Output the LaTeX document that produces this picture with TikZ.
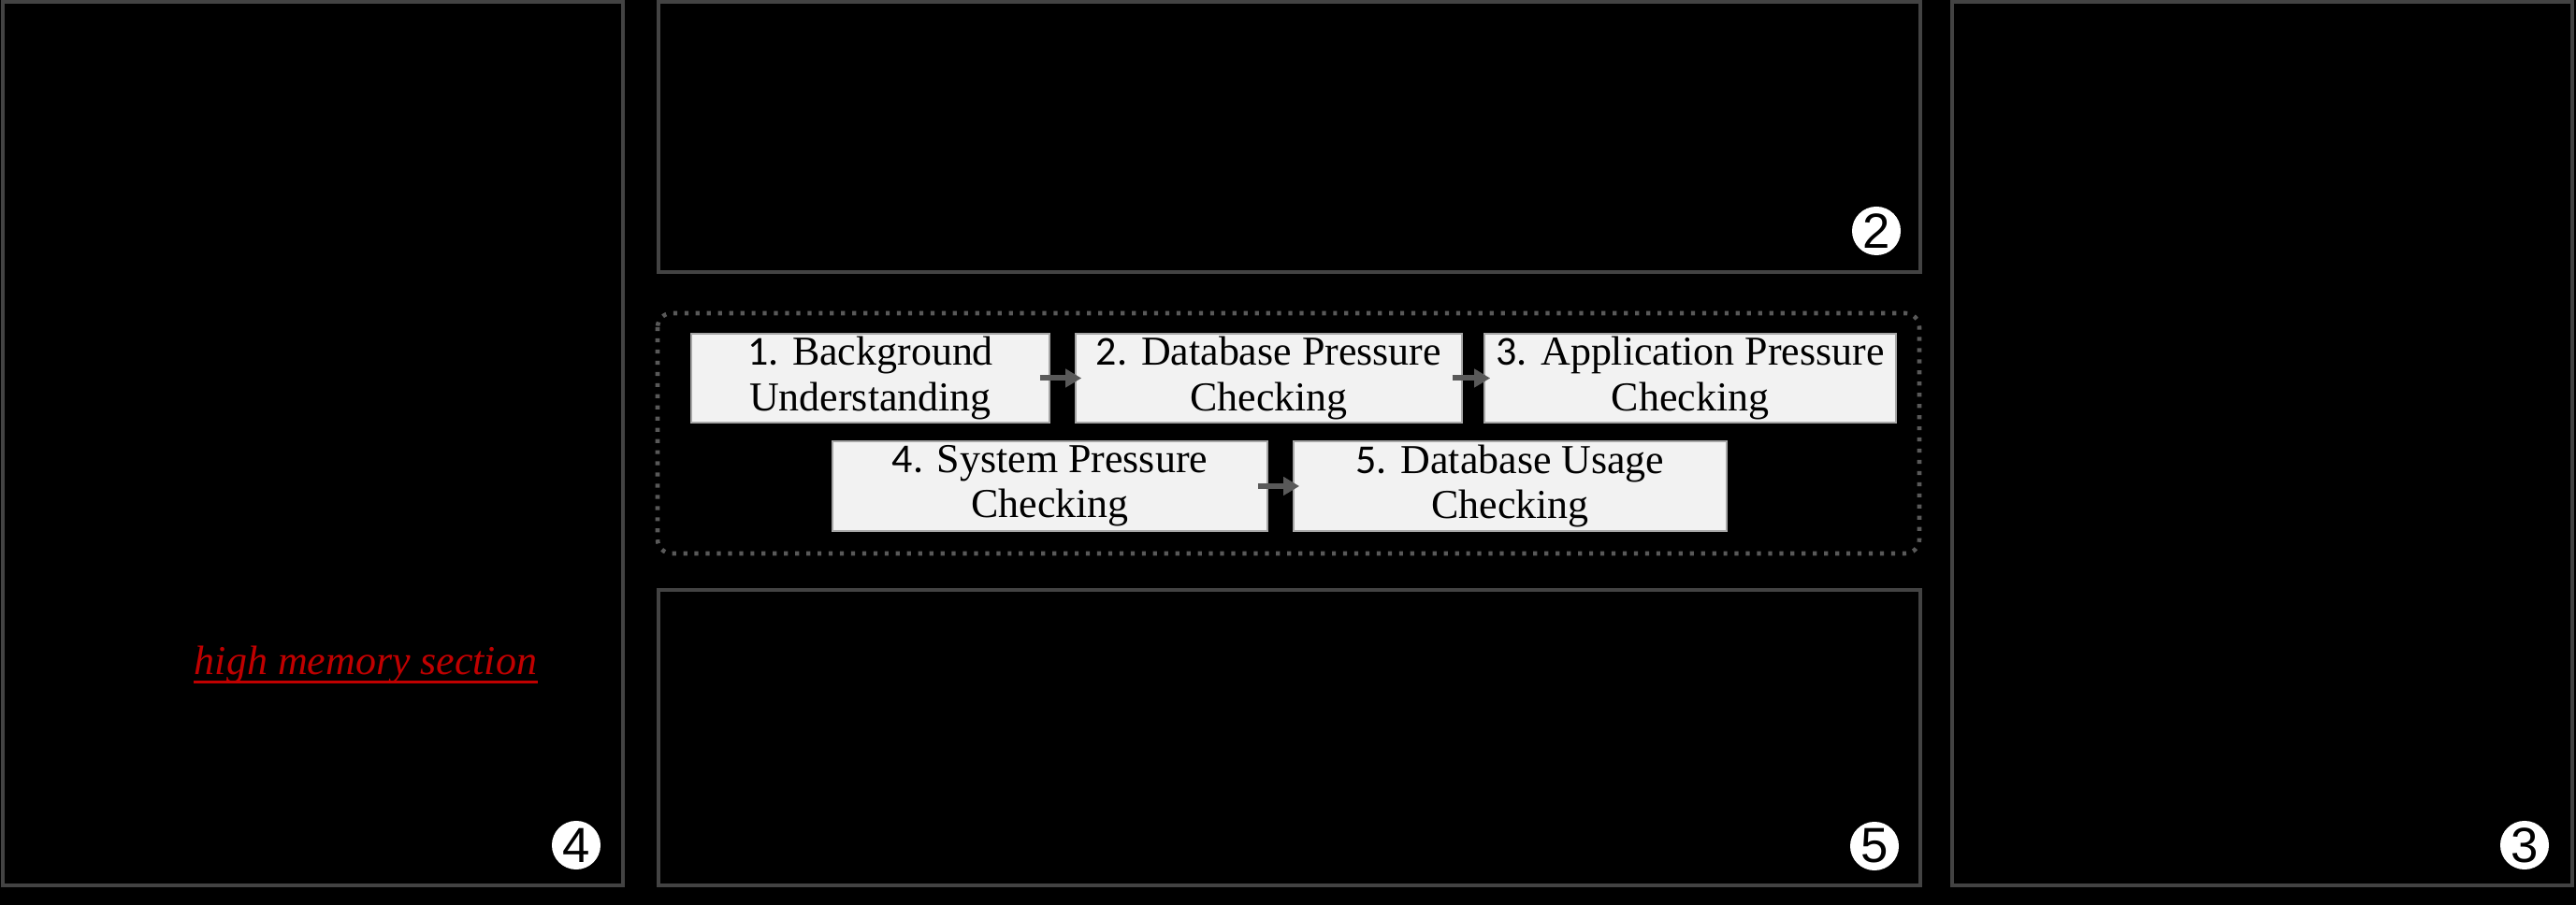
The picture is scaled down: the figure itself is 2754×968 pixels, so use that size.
\documentclass[tikz,border=0pt]{standalone}
\usepackage{fontspec}
\setmainfont{Liberation Serif}
\newfontfamily\numfont{Carlito}
\newfontfamily\circfont{Liberation Sans}
\usetikzlibrary{arrows.meta}

\definecolor{panelgray}{HTML}{434343}
\definecolor{boxfill}{HTML}{F2F2F2}
\definecolor{arrowgray}{HTML}{595959}
\definecolor{memred}{HTML}{C00000}

\begin{document}
\begin{tikzpicture}[x=0.01cm, y=-0.01cm,
    panel/.style={draw=panelgray, line width=1pt},
    stepbox/.style={draw=gray!70, line width=0.4pt, fill=boxfill, inner sep=0pt,
        minimum height=0.95cm, align=center, font=\fontsize{12.5}{13.7}\selectfont},
    flow/.style={-{Triangle[length=0.17cm,width=0.19cm]}, line width=1.7pt, draw=arrowgray},
    badge/.style={circle, fill=white, minimum size=0.52cm, inner sep=0pt,
        font=\circfont\fontsize{15}{15}\selectfont}]
    \fill[black] (0,0) rectangle (2754,968);

    \draw[panel] (3,2) rectangle (666,947);
    \draw[panel] (704,2) rectangle (2053,291);
    \draw[panel] (704,631) rectangle (2053,947);
    \draw[panel] (2087,2) rectangle (2750,947);
    \draw[draw=arrowgray, line width=1.3pt, dash pattern=on 1.2pt off 2.2pt, rounded corners=0.15cm]
        (703,335) rectangle (2052,592);

    % process steps
    \node[stepbox, minimum width=3.83cm] (bg) at (930.5,404.5) {{\numfont 1.} Background\\Understanding};
    \node[stepbox, minimum width=4.13cm] (dbp) at (1356.5,404.5) {{\numfont 2.} Database Pressure\\Checking};
    \node[stepbox, minimum width=4.40cm] (app) at (1807,404.5) {{\numfont 3.} Application Pressure\\Checking};
    \node[stepbox, minimum width=4.65cm, minimum height=0.96cm] (sys) at (1122.5,520) {{\numfont 4.} System Pressure\\Checking};
    \node[stepbox, minimum width=4.63cm, minimum height=0.96cm] (dbu) at (1614.5,520) {{\numfont 5.} Database Usage\\Checking};

    \draw[flow] ([xshift=-0.11cm]bg.east) -- ([xshift=0.07cm]dbp.west);
    \draw[flow] ([xshift=-0.11cm]dbp.east) -- ([xshift=0.07cm]app.west);
    \draw[flow] ([xshift=-0.11cm]sys.east) -- ([xshift=0.07cm]dbu.west);

    \node[anchor=base, inner sep=0pt, text=memred, font=\fontsize{12.5}{14}\selectfont\itshape]
        (mem) at (391,722) {high memory section};
    \draw[memred, line width=0.85pt] ([yshift=-2pt]mem.base west) -- ([yshift=-2pt]mem.base east);

    \node[badge] (n2) at (2006,247) {2};
    \node[badge] (n3) at (2699,904) {3};
    \node[badge] (n4) at (616,904) {4};
    \node[badge] (n5) at (2004,905) {5};
\end{tikzpicture}
\end{document}
